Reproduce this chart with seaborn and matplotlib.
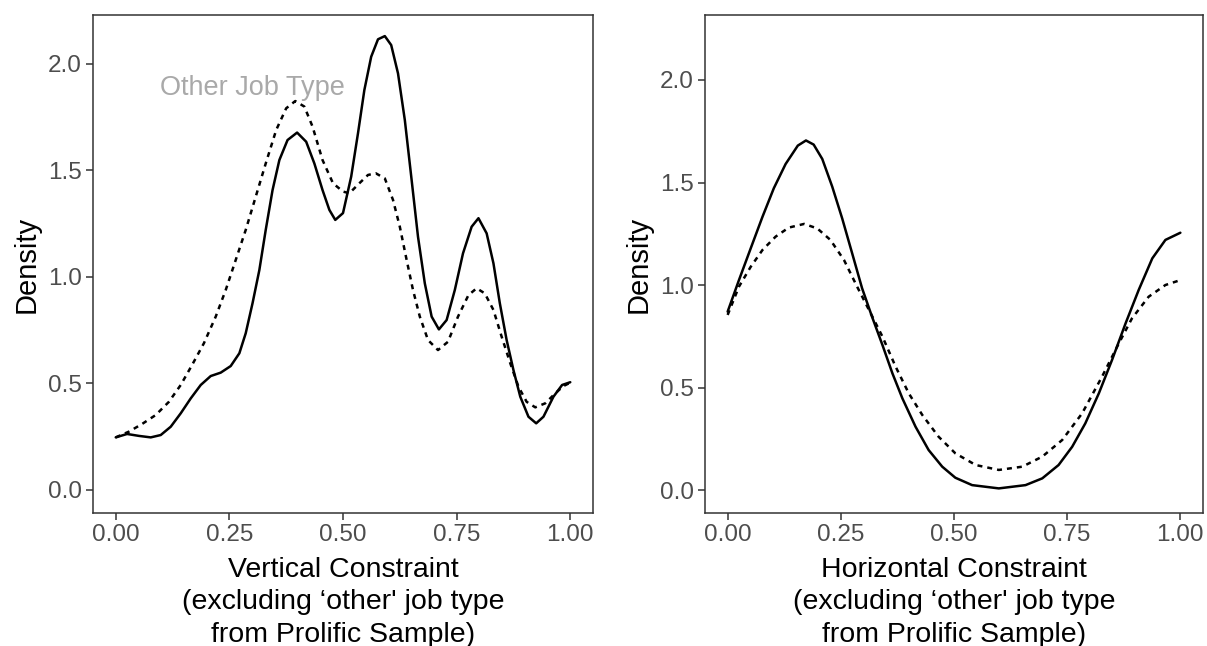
import numpy as np
import pandas as pd
import matplotlib
matplotlib.use("Agg")
import matplotlib.pyplot as plt
import seaborn as sns

# ---- Data ----
# Left panel: Vertical Constraint
v_solid_x = [0.000, 0.025, 0.051, 0.077, 0.099, 0.121, 0.143, 0.165, 0.187, 0.209, 0.231, 0.253,
             0.272, 0.286, 0.301, 0.316, 0.330, 0.345, 0.360, 0.378, 0.399, 0.419, 0.437, 0.455,
             0.470, 0.483, 0.500, 0.518, 0.533, 0.547, 0.562, 0.577, 0.592, 0.606, 0.621, 0.636,
             0.651, 0.665, 0.680, 0.695, 0.711, 0.728, 0.746, 0.764, 0.783, 0.798, 0.816, 0.831,
             0.845, 0.860, 0.875, 0.890, 0.908, 0.925, 0.941, 0.963, 0.982, 1.000]
v_solid_y = [0.247, 0.263, 0.254, 0.247, 0.258, 0.297, 0.360, 0.430, 0.493, 0.535, 0.551, 0.582,
             0.642, 0.736, 0.877, 1.033, 1.221, 1.408, 1.549, 1.643, 1.678, 1.635, 1.533, 1.408,
             1.315, 1.268, 1.300, 1.471, 1.675, 1.878, 2.034, 2.116, 2.131, 2.089, 1.956, 1.737,
             1.455, 1.189, 0.970, 0.814, 0.754, 0.798, 0.939, 1.111, 1.236, 1.276, 1.205, 1.064,
             0.877, 0.704, 0.563, 0.438, 0.344, 0.313, 0.344, 0.438, 0.493, 0.506]

v_dash_x = [0.000, 0.029, 0.058, 0.088, 0.117, 0.143, 0.168, 0.194, 0.220, 0.242, 0.264, 0.286,
            0.308, 0.330, 0.353, 0.375, 0.395, 0.415, 0.433, 0.455, 0.478, 0.500, 0.514, 0.536,
            0.555, 0.572, 0.592, 0.610, 0.625, 0.640, 0.654, 0.669, 0.687, 0.709, 0.731, 0.753,
            0.776, 0.794, 0.812, 0.831, 0.849, 0.868, 0.886, 0.904, 0.923, 0.945, 0.967, 0.985,
            1.000]
v_dash_y = [0.247, 0.274, 0.310, 0.352, 0.414, 0.493, 0.587, 0.689, 0.814, 0.939, 1.080, 1.221,
            1.377, 1.533, 1.690, 1.792, 1.826, 1.800, 1.706, 1.549, 1.440, 1.401, 1.393, 1.440,
            1.479, 1.487, 1.463, 1.362, 1.236, 1.080, 0.939, 0.814, 0.704, 0.657, 0.696, 0.814,
            0.915, 0.947, 0.923, 0.845, 0.720, 0.595, 0.485, 0.414, 0.388, 0.407, 0.454, 0.488,
            0.504]

# Right panel: Horizontal Constraint
h_solid_x = [0.000, 0.025, 0.051, 0.077, 0.102, 0.128, 0.155, 0.173, 0.190, 0.209, 0.231, 0.253,
             0.275, 0.297, 0.319, 0.342, 0.364, 0.386, 0.415, 0.444, 0.474, 0.503, 0.540, 0.599,
             0.658, 0.695, 0.731, 0.761, 0.790, 0.820, 0.849, 0.879, 0.908, 0.938, 0.967, 1.000]
h_solid_y = [0.870, 1.024, 1.179, 1.333, 1.472, 1.590, 1.680, 1.705, 1.685, 1.615, 1.480, 1.325,
             1.155, 0.984, 0.845, 0.707, 0.569, 0.447, 0.309, 0.195, 0.114, 0.060, 0.024, 0.008,
             0.024, 0.057, 0.122, 0.211, 0.325, 0.472, 0.634, 0.813, 0.976, 1.130, 1.220, 1.255]

h_dash_x = [0.000, 0.025, 0.051, 0.077, 0.106, 0.135, 0.169, 0.198, 0.227, 0.257, 0.286, 0.316,
            0.342, 0.371, 0.400, 0.430, 0.466, 0.503, 0.548, 0.599, 0.651, 0.695, 0.739, 0.783,
            0.827, 0.864, 0.893, 0.930, 0.967, 1.000]
h_dash_y = [0.854, 0.992, 1.089, 1.171, 1.236, 1.280, 1.298, 1.276, 1.220, 1.122, 0.992, 0.862,
            0.748, 0.602, 0.472, 0.366, 0.260, 0.179, 0.122, 0.098, 0.114, 0.163, 0.244, 0.374,
            0.553, 0.715, 0.837, 0.943, 1.000, 1.024]

x_ticks = [0.00, 0.25, 0.50, 0.75, 1.00]
x_tick_labels = ["0.00", "0.25", "0.50", "0.75", "1.00"]
y_ticks = [0.0, 0.5, 1.0, 1.5, 2.0]
y_tick_labels = ["0.0", "0.5", "1.0", "1.5", "2.0"]

x_title_left = "Vertical Constraint\n(excluding \u2018other' job type\nfrom Prolific Sample)"
x_title_right = "Horizontal Constraint\n(excluding \u2018other' job type\nfrom Prolific Sample)"
annotation = "Other Job Type"

# ---- Build tables ----
def make_df(sx, sy, dx, dy):
    return pd.concat([
        pd.DataFrame({"x": sx, "y": sy, "grp": "solid"}),
        pd.DataFrame({"x": dx, "y": dy, "grp": "dashed"}),
    ], ignore_index=True)

df_v = make_df(v_solid_x, v_solid_y, v_dash_x, v_dash_y)
df_h = make_df(h_solid_x, h_solid_y, h_dash_x, h_dash_y)

sns.set_theme(style="white")
plt.rcParams["font.family"] = ["Liberation Sans", "DejaVu Sans"]

fig = plt.figure(figsize=(12.07, 6.46), dpi=100)
ax1 = fig.add_axes([93 / 1207, 133 / 646, 500 / 1207, 498 / 646])
ax2 = fig.add_axes([705 / 1207, 133 / 646, 498 / 1207, 498 / 646])

dash_map = {"solid": "", "dashed": (2, 2)}

for ax, df, title, ylim in [
    (ax1, df_v, x_title_left, (-0.108, 2.23)),
    (ax2, df_h, x_title_right, (-0.112, 2.317)),
]:
    sns.lineplot(data=df, x="x", y="y", style="grp", dashes=dash_map,
                 color="black", linewidth=1.8, estimator=None, sort=True,
                 legend=False, ax=ax)
    ax.set_xlim(-0.05, 1.05)
    ax.set_ylim(*ylim)
    ax.set_xticks(x_ticks)
    ax.set_xticklabels(x_tick_labels)
    ax.set_yticks(y_ticks)
    ax.set_yticklabels(y_tick_labels)
    ax.tick_params(axis="both", which="both", length=5, width=1.1, color="#333333",
                   labelsize=17.5, labelcolor="#4D4D4D", pad=3, direction="out",
                   bottom=True, left=True)
    for s in ax.spines.values():
        s.set_color("#333333")
        s.set_linewidth(1.1)
    ax.set_xlabel(title, fontsize=20.5, color="black", linespacing=1.31, labelpad=8)
    ax.set_ylabel("Density", fontsize=21, color="black", labelpad=5)
    ax.grid(False)

ax1.text(0.30, 1.887, annotation, color="#A9A9A9", fontsize=19.5,
         ha="center", va="center")

fig.savefig("out.png", dpi=100)
